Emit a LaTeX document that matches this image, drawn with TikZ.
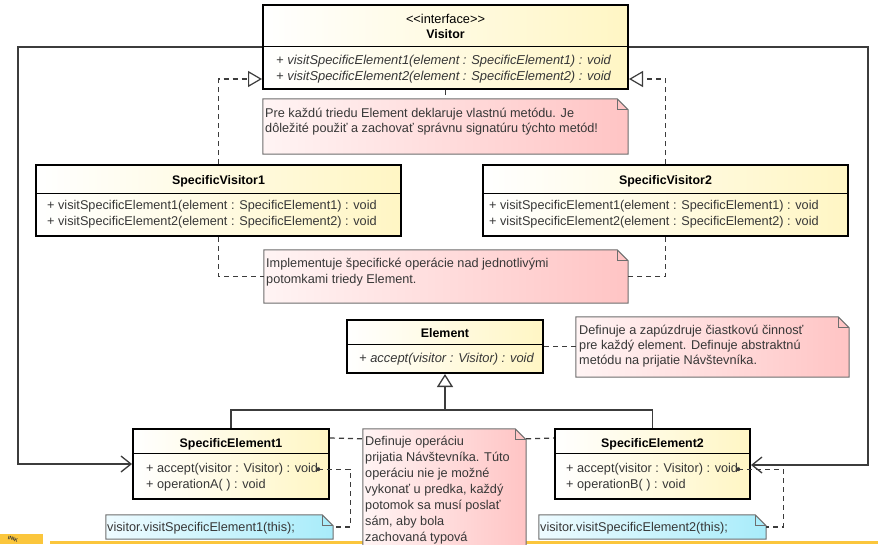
\documentclass[tikz,border=0pt]{standalone}
\usepackage{fontspec}
\setmainfont{Liberation Sans}
\usepackage{tikz}
\usetikzlibrary{shapes,positioning,arrows.meta}
\usetikzlibrary{calc}

\definecolor{clsyellow}{RGB}{255,246,196}
\definecolor{notepink}{RGB}{255,196,196}
\definecolor{notepinkl}{RGB}{255,244,244}
\definecolor{notecyan}{RGB}{168,236,250}
\definecolor{notecyanl}{RGB}{238,251,255}
\definecolor{notegray}{RGB}{110,110,110}
\definecolor{linegray}{RGB}{60,60,60}
\definecolor{textgray}{RGB}{55,55,55}
\definecolor{bargold}{RGB}{251,198,60}

\begin{document}
\begin{tikzpicture}[x=1pt, y=-1pt,
    cls/.style={draw=black, line width=2pt, left color=white, right color=clsyellow, inner sep=0pt},
    divider/.style={black, line width=1pt},
    clsname/.style={anchor=base, inner sep=0pt, font=\fontsize{12.4}{14}\selectfont\bfseries},
    meth/.style={anchor=base west, inner sep=0pt, text=textgray, font=\fontsize{12.7}{14}\selectfont},
    absmeth/.style={meth, font=\fontsize{12.9}{14}\selectfont\itshape},
    notebox/.style={inner sep=0pt},
    pinknote/.style={draw=notegray, line width=1pt, left color=notepinkl, right color=notepink},
    cyannote/.style={draw=notegray, line width=1pt, left color=notecyanl, right color=notecyan},
    fold/.style={draw=notegray, line width=1pt},
    notetext/.style={anchor=base west, inner sep=0pt, text=textgray, font=\fontsize{12.7}{14}\selectfont},
    noteline/.style={linegray, line width=1.2pt, dash pattern=on 5pt off 4pt},
    realize/.style={noteline, -{Triangle[open, length=14pt, width=16pt]}},
    assoc/.style={linegray, line width=1.3pt, -{Straight Barb[length=10pt, width=16pt]}},
    inherit/.style={linegray, line width=1.3pt}
]
\useasboundingbox (0,0) rectangle (878,544);
\clip (0,0) rectangle (878,544);
\fill[white] (0,0) rectangle (878,544);


\fill[bargold] (50,541) rectangle (878,544);
\fill[bargold] (0,534) rectangle (43,544);
\node[inner sep=0pt, rotate=-15, text=black!80, font=\fontsize{5}{5}\selectfont\bfseries] (logo) at (13,539) {INIK};


\node[cls, minimum width=365pt, minimum height=84pt] (visitor) at (445.5,47) {};
\node[cls, minimum width=365pt, minimum height=71pt] (sv1) at (218.5,200.5) {};
\node[cls, minimum width=365pt, minimum height=71pt] (sv2) at (665.5,200.5) {};
\node[cls, minimum width=196pt, minimum height=53pt] (element) at (445,346.5) {};
\node[cls, minimum width=196pt, minimum height=70pt] (se1) at (231,464) {};
\node[cls, minimum width=195pt, minimum height=70pt] (se2) at (652.5,464) {};

\foreach \c/\y in {visitor/46, sv1/193, sv2/193, element/344, se1/453, se2/453}
    \draw[divider] (\c.west |- 0,\y) -- (\c.east |- 0,\y);


\node[clsname, font=\fontsize{12.8}{14}\selectfont] (stereo) at (445.5,23.5) {\textless{}\textless{}interface\textgreater{}\textgreater{}};
\node[clsname] (visitorname) at (445.5,38.5) {Visitor};
\node[clsname] (sv1name) at (218.5,184.5) {SpecificVisitor1};
\node[clsname] (sv2name) at (665.5,184.5) {SpecificVisitor2};
\node[clsname] (elementname) at (445,337.5) {Element};
\node[clsname] (se1name) at (231,447.5) {SpecificElement1};
\node[clsname] (se2name) at (652.5,447.5) {SpecificElement2};

\foreach \k in {1,2}{
    \node[absmeth] (vm\k) at (276,{48.5+16*\k}) {+ visitSpecificElement\k(element : SpecificElement\k) : void};
    \node[meth] (sv1m\k) at (47,{193.5+16*\k}) {+ visitSpecificElement\k(element : SpecificElement\k) : void};
    \node[meth] (sv2m\k) at (489,{193.5+16*\k}) {+ visitSpecificElement\k(element : SpecificElement\k) : void};
}

\node[absmeth] (em1) at (359,362.5) {+ accept(visitor : Visitor) : void};
\node[meth] (se1m1) at (146,472.5) {+ accept(visitor : Visitor) : void};
\node[meth] (se1m2) at (146,488.5) {+ operationA( ) : void};
\node[meth] (se2m1) at (566,472.5) {+ accept(visitor : Visitor) : void};
\node[meth] (se2m2) at (566,488.5) {+ operationB( ) : void};


\node[notebox, minimum width=365pt, minimum height=55pt] (n1) at (445.5,126.5) {};
\node[notebox, minimum width=364pt, minimum height=53pt] (n2) at (446,276.5) {};
\node[notebox, minimum width=273pt, minimum height=60pt] (n3) at (712.5,347) {};
\node[notebox, minimum width=163pt, minimum height=151pt] (n4) at (444.5,504.5) {};
\node[notebox, minimum width=227pt, minimum height=24pt] (n5) at (219.5,527) {};
\node[notebox, minimum width=227pt, minimum height=24pt] (n6) at (652.5,527) {};

\foreach \n/\s in {n1/pinknote, n2/pinknote, n3/pinknote, n4/pinknote, n5/cyannote, n6/cyannote}{
    \draw[\s] (\n.south west) -- (\n.north west) -- ([xshift=-11pt]\n.north east)
        -- ([yshift=-11pt]\n.north east) -- (\n.south east) -- cycle;
    \draw[fold] ([xshift=-11pt]\n.north east) |- ([yshift=-11pt]\n.north east);
}

\foreach \t [count=\i] in {Pre každú triedu Element deklaruje vlastnú metódu. Je,
        dôležité použiť a zachovať správnu signatúru týchto metód!}
    \node[notetext] (n1l\i) at (265,{102+15*\i}) {\t};

\foreach \t [count=\i] in {Implementuje špecifické operácie nad jednotlivými,
        potomkami triedy Element.}
    \node[notetext] (n2l\i) at (266,{251.5+16*\i}) {\t};

\foreach \t [count=\i] in {Definuje a zapúzdruje čiastkovú činnosť,
        pre každý element. Definuje abstraktnú,
        metódu na prijatie Návštevníka.}
    \node[notetext] (n3l\i) at (579,{319.5+15*\i}) {\t};

\foreach \t [count=\i] in {Definuje operáciu, prijatia Návštevníka. Túto, operáciu nie je možné,
        {vykonať u predka, každý}, potomok sa musí poslať, {sám, aby bola}, zachovaná typová}
    \node[notetext] (n4l\i) at (365,{429.5+16*\i}) {\t};

\node[notetext] (n5l1) at (107,531.5) {visitor.visitSpecificElement1(this);};
\node[notetext] (n6l1) at (540,531.5) {visitor.visitSpecificElement2(this);};


\coordinate (lc) at (18,464);
\coordinate (rc) at (868,465);
\coordinate (fork) at (445,410);

\draw[assoc] (visitor.west) -| (lc) -- (se1.west |- lc);
\draw[assoc] (visitor.east) -| (rc) -- (se2.east |- rc);

\draw[inherit] (se1.north) |- (se2.north |- fork) -- (se2.north);
\draw[inherit, -{Triangle[open, length=13pt, width=16pt]}] (fork) -- (element.south);

\draw[realize] (sv1.north) |- (visitor.west |- 0,79);
\draw[realize] (sv2.north) |- (visitor.east |- 0,79);

\draw[noteline] (visitor.south) -- (n1.north);
\draw[noteline] (sv1.south) |- (n2.west);
\draw[noteline] (sv2.south) |- (n2.east);
\draw[noteline] (element.east) -- (n3.west |- element.east);
\draw[noteline] ([yshift=-10pt]se1.north east) -- ([yshift=-10pt]n4.north west);
\draw[noteline] ([yshift=-10pt]n4.north east) -- ([yshift=-10pt]se2.north west);

\fill[linegray] (se1m1.east) circle (2pt);
\fill[linegray] (se2m1.east) circle (2pt);
\draw[noteline] (se1m1.east) -| ($(n5.east)+(17,0)$) -- (n5.east);
\draw[noteline] (se2m1.east) -| ($(n6.east)+(17,0)$) -- (n6.east);

\end{tikzpicture}
\end{document}
